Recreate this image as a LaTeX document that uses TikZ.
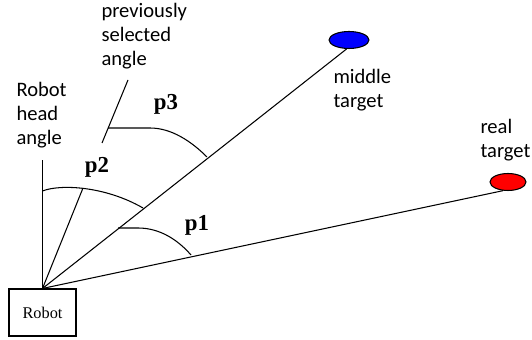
\documentclass[tikz,border=0pt]{standalone}
\usepackage{fontspec}
\setmainfont{Liberation Serif}
\setsansfont{Carlito}
\usetikzlibrary{shapes.geometric,positioning}
\definecolor{TargetBlue}{RGB}{0,0,255}
\definecolor{TargetRed}{RGB}{255,0,0}

\tikzset{
  target/.style={ellipse,draw,inner sep=0pt,minimum width=#1,minimum height=0.34cm},
  note/.style={font=\sffamily\fontsize{11.7}{13.8}\selectfont,align=left,anchor=west,inner sep=0pt},
  anglab/.style={font=\bfseries\fontsize{13}{15}\selectfont,inner sep=0pt}
}

\begin{document}
\begin{tikzpicture}[x=0.02cm,y=-0.02cm,line width=0.6pt]
  \useasboundingbox (0,0) rectangle (532,340);
  % robot and the two targets
  \node[draw,minimum width=1.34cm,minimum height=0.94cm,inner sep=0pt,
        font=\fontsize{9.3}{11}\selectfont] (robot) at (42.5,312.5) {Robot};
  \node[target=0.8cm,fill=TargetBlue] (mid) at (349,40) {};
  \node[target=0.72cm,fill=TargetRed] (real) at (508,182) {};

  \node[note] (headtxt) at (16,115) {Robot\\head\\angle};
  \node[note] (prevtxt) at (101,36) {previously\\selected\\angle};
  \node[note] (midtxt) at (333,90) {middle\\target};
  \node[note] (realtxt) at (480,140) {real\\target};

  \coordinate (headtop) at (42.5,160);
  \coordinate (p2end) at (83,188);
  \coordinate (leadtop) at (128,80);
  \coordinate (leadbot) at (102,143);

  % rays from the robot
  \draw (robot.north) -- (headtop);
  \draw (robot.north) -- (mid.255);
  \draw (robot.north) -- (real.240);
  \draw (robot.north) -- (p2end);
  \draw (leadtop) -- (leadbot);

  % angle arcs
  \draw (42.5,191) .. controls (60,184) and (105,186) .. (143,208);
  \draw (118,228) -- (138,228) .. controls (160,228) and (178,240) .. (191,255);
  \draw (108,128) -- (150,128) .. controls (172,128) and (192,142) .. (207,157);

  \node[anglab] (p1) at (197,225) {p1};
  \node[anglab] (p2) at (97,167) {p2};
  \node[anglab] (p3) at (166,104) {p3};
\end{tikzpicture}
\end{document}
